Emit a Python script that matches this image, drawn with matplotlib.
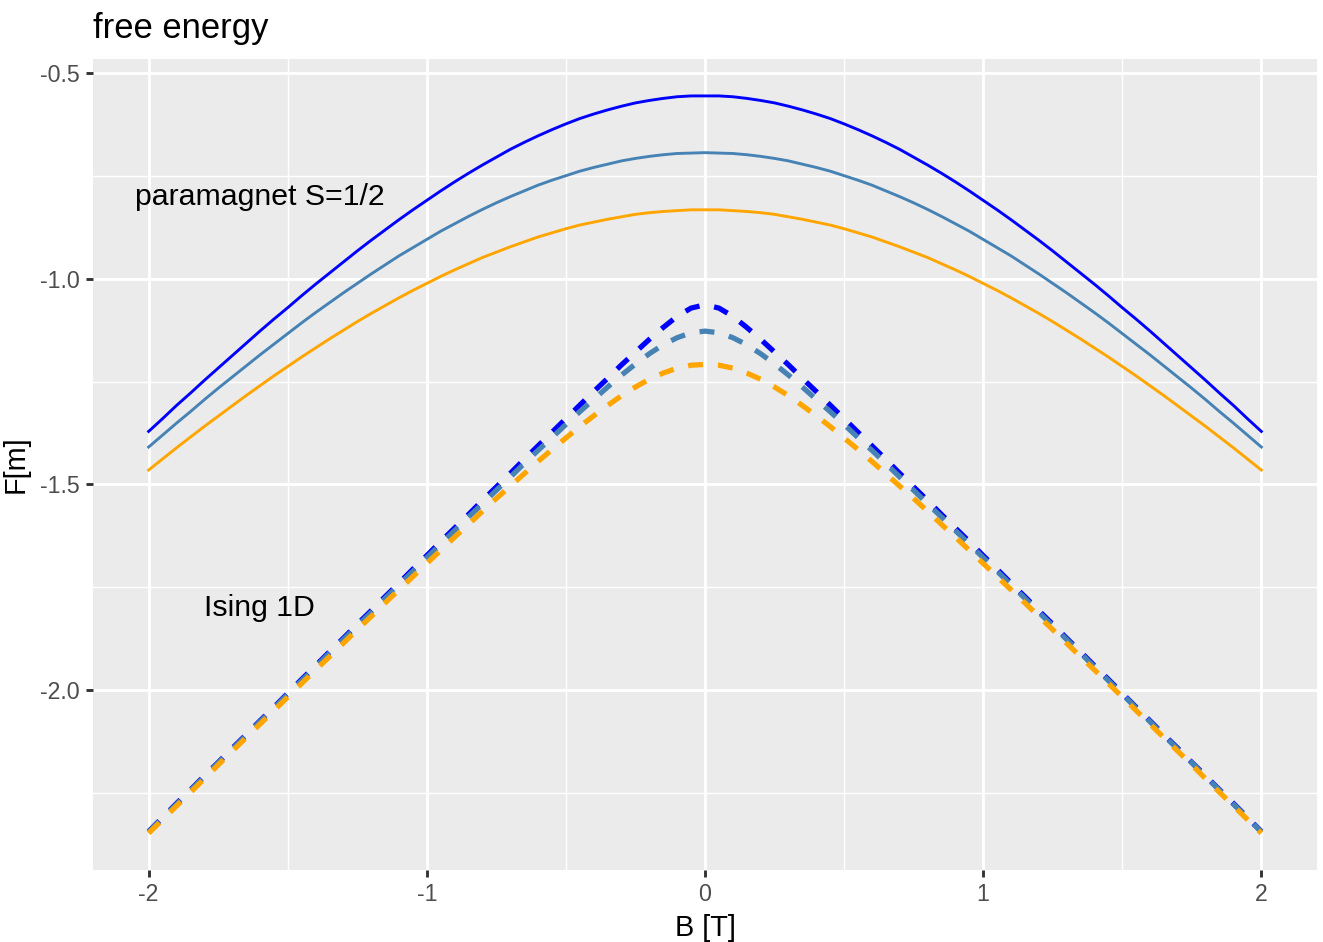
import numpy as np
import matplotlib
matplotlib.use("Agg")
import matplotlib.pyplot as plt

plt.rcParams['font.family'] = ['Liberation Sans', 'DejaVu Sans']

# magnetic field B [T], -2 .. 2 in steps of 0.05
B = np.linspace(-2, 2, 81)

# free energy values, in thousandths
# paramagnet S=1/2 (solid lines)
para_08 = [-1371, -1340, -1308, -1278, -1247, -1217, -1187, -1157, -1127, -1098,
           -1070, -1041, -1013, -986, -959, -932, -906, -881, -856, -832,
           -809, -786, -764, -743, -723, -704, -685, -668, -652, -637,
           -623, -610, -599, -589, -580, -572, -566, -561, -557, -555,
           -555,
           -555, -557, -561, -566, -572, -580, -589, -599, -610, -623,
           -637, -652, -668, -685, -704, -723, -743, -764, -786, -809,
           -832, -856, -881, -906, -932, -959, -986, -1013, -1041, -1070,
           -1098, -1127, -1157, -1187, -1217, -1247, -1278, -1308, -1340, -1371]
para_10 = [-1409, -1380, -1351, -1323, -1294, -1266, -1239, -1212, -1185, -1159,
           -1133, -1107, -1082, -1058, -1034, -1011, -988, -966, -944, -924,
           -904, -884, -866, -848, -831, -815, -800, -786, -772, -760,
           -749, -738, -729, -721, -713, -707, -702, -698, -695, -694,
           -693,
           -694, -695, -698, -702, -707, -713, -721, -729, -738, -749,
           -760, -772, -786, -800, -815, -831, -848, -866, -884, -904,
           -924, -944, -966, -988, -1011, -1034, -1058, -1082, -1107, -1133,
           -1159, -1185, -1212, -1239, -1266, -1294, -1323, -1351, -1380, -1409]
para_12 = [-1465, -1438, -1411, -1385, -1359, -1334, -1309, -1284, -1260, -1236,
           -1213, -1190, -1168, -1146, -1125, -1104, -1084, -1065, -1046, -1028,
           -1011, -994, -978, -963, -948, -935, -922, -910, -898, -888,
           -878, -869, -862, -855, -849, -843, -839, -836, -834, -832,
           -832,
           -832, -834, -836, -839, -843, -849, -855, -862, -869, -878,
           -888, -898, -910, -922, -935, -948, -963, -978, -994, -1011,
           -1028, -1046, -1065, -1084, -1104, -1125, -1146, -1168, -1190, -1213,
           -1236, -1260, -1284, -1309, -1334, -1359, -1385, -1411, -1438, -1465]

# Ising 1D (dashed lines)
ising_08 = [-2344, -2310, -2276, -2243, -2209, -2176, -2142, -2109, -2075, -2042,
            -2008, -1974, -1941, -1907, -1874, -1840, -1807, -1773, -1740, -1706,
            -1673, -1639, -1606, -1573, -1539, -1506, -1473, -1439, -1406, -1373,
            -1340, -1307, -1274, -1242, -1209, -1178, -1147, -1118, -1091, -1071,
            -1063,
            -1071, -1091, -1118, -1147, -1178, -1209, -1242, -1274, -1307, -1340,
            -1373, -1406, -1439, -1473, -1506, -1539, -1573, -1606, -1639, -1673,
            -1706, -1740, -1773, -1807, -1840, -1874, -1907, -1941, -1974, -2008,
            -2042, -2075, -2109, -2142, -2176, -2209, -2243, -2276, -2310, -2344]
ising_10 = [-2345, -2311, -2278, -2244, -2211, -2177, -2144, -2111, -2077, -2044,
            -2010, -1977, -1944, -1910, -1877, -1844, -1811, -1777, -1744, -1711,
            -1678, -1645, -1612, -1579, -1547, -1514, -1482, -1449, -1417, -1386,
            -1354, -1323, -1293, -1263, -1234, -1207, -1182, -1160, -1143, -1131,
            -1127,
            -1131, -1143, -1160, -1182, -1207, -1234, -1263, -1293, -1323, -1354,
            -1386, -1417, -1449, -1482, -1514, -1547, -1579, -1612, -1645, -1678,
            -1711, -1744, -1777, -1811, -1844, -1877, -1910, -1944, -1977, -2010,
            -2044, -2077, -2111, -2144, -2177, -2211, -2244, -2278, -2311, -2345]
ising_12 = [-2348, -2315, -2282, -2249, -2216, -2182, -2149, -2116, -2083, -2050,
            -2017, -1984, -1951, -1919, -1886, -1853, -1821, -1788, -1756, -1724,
            -1692, -1660, -1628, -1597, -1565, -1534, -1504, -1474, -1444, -1415,
            -1387, -1359, -1333, -1308, -1284, -1263, -1244, -1229, -1217, -1210,
            -1208,
            -1210, -1217, -1229, -1244, -1263, -1284, -1308, -1333, -1359, -1387,
            -1415, -1444, -1474, -1504, -1534, -1565, -1597, -1628, -1660, -1692,
            -1724, -1756, -1788, -1821, -1853, -1886, -1919, -1951, -1984, -2017,
            -2050, -2083, -2116, -2149, -2182, -2216, -2249, -2282, -2315, -2348]

colors = ['#0000FF', '#4682B4', '#FFA500']
x_ticks = [-2, -1, 0, 1, 2]
y_ticks = [-2.0, -1.5, -1.0, -0.5]

fig = plt.figure(figsize=(1323 / 189, 942 / 189), dpi=189)
ax = fig.add_axes([93 / 1323, 72 / 942, 1224 / 1323, 811 / 942])
ax.set_facecolor('#EBEBEB')

for y, c in zip([para_08, para_10, para_12], colors):
    ax.plot(B, np.array(y) / 1000, color=c, lw=1.1)
for y, c in zip([ising_08, ising_10, ising_12], colors):
    ax.plot(B, np.array(y) / 1000, color=c, lw=2.0, dashes=(2.85, 2.85), dash_capstyle='butt')

ax.text(-1.6, -0.8, 'paramagnet S=1/2', ha='center', va='center', fontsize=11.5)
ax.text(-1.6, -1.8, 'Ising 1D', ha='center', va='center', fontsize=11.5)

ax.set_xlim(-2.2, 2.2)
ax.set_ylim(-2.4377, -0.4652)
ax.set_xticks(x_ticks)
ax.set_xticklabels([str(t) for t in x_ticks])
ax.set_xticks([-1.5, -0.5, 0.5, 1.5], minor=True)
ax.set_yticks(y_ticks)
ax.set_yticklabels(['%.1f' % t for t in y_ticks])
ax.set_yticks([-2.25, -1.75, -1.25, -0.75], minor=True)

ax.grid(which='major', color='white', lw=1.1)
ax.grid(which='minor', color='white', lw=0.55)
ax.set_axisbelow(True)
for s in ax.spines.values():
    s.set_visible(False)
ax.tick_params(which='major', length=2.75, width=1.1, color='#333333',
               labelsize=8.8, labelcolor='#4D4D4D', pad=2.2)
ax.tick_params(which='minor', length=0)

ax.set_xlabel('B [T]', fontsize=11, labelpad=3)
ax.set_ylabel('F[m]', fontsize=11, labelpad=4)
ax.set_title('free energy', loc='left', fontsize=13.2, pad=8)

fig.savefig('out.png', dpi=189)
